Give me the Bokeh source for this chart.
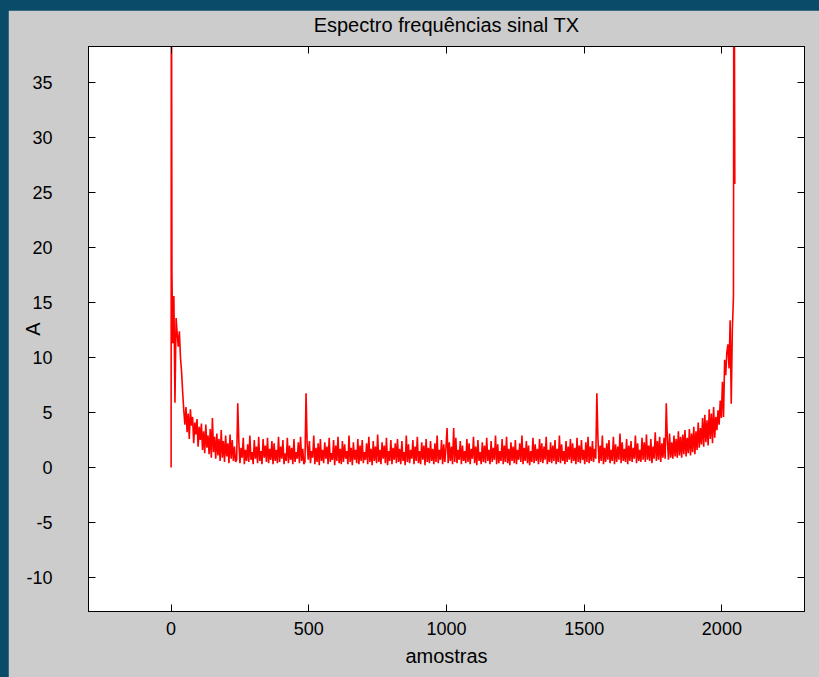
from bokeh.plotting import figure
from bokeh.models import Range1d, LinearAxis, FixedTicker, PrintfTickFormatter
from bokeh.layouts import column
from bokeh.embed import file_html
from bokeh.resources import INLINE

# --- data ---
titulo = "Espectro frequências sinal TX"
rotulo_x = "amostras"
rotulo_y = "A"
ticks_x = [0, 500, 1000, 1500, 2000]
ticks_y = [-10, -5, 0, 5, 10, 15, 20, 25, 30, 35]

head_amostras = [0, 1, 2, 3]
head_valores = [0, 60, 35.4, 17.6]

corpo_inicio = 6
corpo_passo = 4
corpo_valores = [
    11.3, 15.6, 5.9, 13.6, 12.2, 11.0, 12.4, 10.0, 8.7, 6.85, 5.2, 3.9,
    5.5, 3.2, 4.9, 2.6, 5.3, 3.8, 4.6, 2.2, 4.1, 3.0, 4.4, 1.9, 3.7, 2.5, 4.0, 1.6,
    3.3, 1.3, 3.9, 1.8, 2.9, 1.2, 3.5, 0.9, 4.5, 1.4, 2.8, 0.8, 3.1, 1.1, 2.6, 0.6,
    3.4, 0.9, 2.4, 0.5, 2.9, 1.0, 2.2, 0.4, 3.0, 0.8, 2.5, 0.6, 1.9, 0.5, 0.7, 5.85,
    2.3, 0.4, 1.8, 0.9, 2.7, 0.3, 1.6, 0.6, 2.1, 0.5, 2.9, 0.7, 1.4, 0.3, 2.5, 0.8,
    1.9, 0.4, 2.8, 0.6, 1.5, 0.3, 2.6, 0.9, 2.0, 0.5, 2.7, 0.4, 1.7, 0.7, 2.4, 0.3,
    2.2, 0.6, 1.6, 0.4, 2.8, 0.5, 1.9, 0.8, 2.5, 0.3, 1.3, 0.6, 2.7, 0.4, 2.0, 0.7,
    1.8, 0.3, 2.6, 0.5, 1.4, 0.8, 2.3, 0.4, 2.8, 0.6, 1.7, 0.3, 0.5, 6.75, 2.1, 0.7,
    2.4, 0.4, 1.5, 0.9, 2.9, 0.3, 1.8, 0.5, 2.2, 0.2, 2.6, 0.6, 1.6, 0.4, 2.3, 0.8,
    1.9, 0.3, 2.7, 0.5, 1.3, 0.7, 2.5, 0.2, 2.0, 0.6, 2.8, 0.4, 1.7, 0.3, 2.4, 0.5,
    2.1, 0.8, 1.5, 0.3, 2.9, 0.5, 1.8, 0.2, 2.3, 0.7, 1.6, 0.4, 2.6, 0.3, 2.0, 0.6,
    2.5, 0.4, 1.4, 0.7, 2.2, 0.3, 2.8, 0.5, 1.7, 0.2, 2.4, 0.6, 1.9, 0.4, 3.0, 0.5,
    1.6, 0.3, 2.3, 0.8, 2.0, 0.4, 2.7, 0.2, 1.5, 0.6, 2.5, 0.3, 1.8, 0.7, 2.2, 0.4,
    2.6, 0.5, 1.7, 0.3, 2.4, 0.6, 1.4, 0.2, 2.9, 0.5, 2.1, 0.4, 1.6, 0.8, 2.5, 0.3,
    1.9, 0.6, 2.8, 0.4, 1.5, 0.3, 2.3, 0.7, 2.0, 0.2, 2.6, 0.5, 1.8, 0.4, 2.4, 0.6,
    1.7, 0.3, 2.2, 0.5, 2.9, 0.4, 1.6, 0.7, 2.5, 0.3, 2.1, 0.5, 1.8, 3.6, 0.4, 2.3,
    0.6, 1.9, 0.3, 3.6, 0.5, 2.7, 0.4, 1.6, 0.7, 2.4, 0.3, 2.0, 0.6, 1.5, 0.4, 2.6,
    0.5, 2.2, 0.3, 1.7, 0.8, 2.8, 0.4, 1.9, 0.2, 2.5, 0.6, 1.4, 0.3, 2.3, 0.5, 2.0,
    0.4, 2.7, 0.6, 1.6, 0.3, 2.4, 0.5, 1.8, 0.7, 2.9, 0.3, 2.1, 0.4, 1.5, 0.6, 2.6,
    0.3, 2.0, 0.5, 2.8, 0.4, 1.7, 0.2, 2.3, 0.6, 1.9, 0.4, 2.5, 0.3, 1.6, 0.7, 2.2,
    0.5, 2.9, 0.3, 1.8, 0.6, 2.4, 0.4, 2.0, 0.2, 1.5, 0.5, 2.7, 0.4, 2.1, 0.6, 1.7,
    0.3, 2.6, 0.5, 2.2, 0.4, 1.9, 0.7, 2.8, 0.3, 1.6, 0.5, 2.3, 0.4, 2.0, 0.6, 2.5,
    0.3, 1.7, 0.5, 2.9, 0.4, 2.1, 0.6, 1.5, 0.3, 2.4, 0.5, 1.9, 0.7, 2.6, 0.4, 2.2,
    0.6, 1.8, 0.3, 2.7, 0.5, 2.0, 0.4, 2.5, 0.7, 1.6, 0.3, 2.3, 0.5, 2.8, 0.4, 1.9,
    0.6, 2.4, 0.5, 1.7, 0.8, 6.75, 2.6, 0.4, 2.0, 0.6, 2.9, 0.3, 1.8, 0.5, 2.2, 0.7,
    2.5, 0.4, 1.6, 0.6, 2.8, 0.3, 2.1, 0.5, 1.9, 0.7, 3.1, 0.4, 2.3, 0.6, 1.7, 0.5,
    2.6, 0.3, 2.0, 0.6, 2.4, 0.5, 1.8, 0.8, 2.9, 0.4, 2.2, 0.6, 1.6, 0.5, 2.7, 0.7,
    2.3, 0.5, 3.0, 0.7, 2.0, 0.6, 2.6, 0.4, 1.9, 0.8, 3.2, 0.6, 2.4, 0.7, 2.8, 0.5,
    2.2, 0.9, 2.7, 0.8, 5.85, 2.5, 0.7, 3.1, 0.9, 2.3, 0.8, 2.9, 1.0, 2.6, 0.9, 3.3,
    1.1, 2.8, 0.9, 3.0, 1.2, 3.4, 1.0, 2.7, 1.3, 3.5, 1.1, 3.1, 1.4, 3.7, 1.2, 3.3,
    1.6, 4.1, 1.8, 3.6, 2.1, 4.5, 1.9, 4.8, 2.3, 4.3, 2.0, 5.3, 2.6, 4.9, 2.2, 5.5,
    2.7, 4.6, 3.4, 5.2, 3.9, 6.1, 4.5, 7.8, 4.6, 9.8, 8.4, 10.5, 11.2, 9.0, 13.4, 5.8, 12.6,
]
tail_amostras = [2042, 2044, 2046, 2047]
tail_valores = [15.5, 60, 35.2, 25.8]

corpo_amostras = list(range(corpo_inicio, corpo_inicio + corpo_passo * len(corpo_valores), corpo_passo))
amostras = head_amostras + corpo_amostras + tail_amostras
amplitude = head_valores + corpo_valores + tail_valores

# --- figure ---
FONT = "Liberation Sans"
p = figure(width=811, height=667, output_backend="svg", toolbar_location=None,
           x_range=Range1d(-300, 2300), y_range=Range1d(-13.1, 38.3),
           min_border_left=80, min_border_right=15, min_border_top=36, min_border_bottom=66,
           margin=(10, 0, 0, 8))
p.title.visible = False
p.border_fill_color = "#cccccc"
p.background_fill_color = "white"
p.outline_line_color = "black"
p.grid.visible = False

p.line(amostras, amplitude, line_color="#ff0000", line_width=1.6)

for ax, ticks in ((p.xaxis[0], ticks_x), (p.yaxis[0], ticks_y)):
    ax.ticker = FixedTicker(ticks=ticks)
    ax.formatter = PrintfTickFormatter(format="%d")
    ax.major_tick_in = 7
    ax.major_tick_out = 0
    ax.minor_tick_in = 0
    ax.minor_tick_out = 0
    ax.axis_line_color = "black"
    ax.major_tick_line_color = "black"
    ax.major_label_text_font = FONT
    ax.major_label_text_font_size = "18px"
    ax.major_label_text_color = "black"
    ax.axis_label_text_font = FONT
    ax.axis_label_text_font_size = "20px"
    ax.axis_label_text_font_style = "normal"
    ax.axis_label_text_color = "black"

p.xaxis[0].axis_label = rotulo_x
p.yaxis[0].axis_label = rotulo_y
p.xaxis[0].major_label_standoff = 10
p.xaxis[0].axis_label_standoff = 7
p.yaxis[0].major_label_standoff = 36
p.yaxis[0].axis_label_standoff = -21

for loc, ticks in (("above", ticks_x), ("right", ticks_y)):
    ax = LinearAxis(ticker=FixedTicker(ticks=ticks))
    ax.major_tick_in = 7
    ax.major_tick_out = 0
    ax.minor_tick_in = 0
    ax.minor_tick_out = 0
    ax.major_label_text_font_size = "0px"
    ax.major_label_text_color = None
    ax.major_label_standoff = 0
    ax.axis_line_color = "black"
    ax.major_tick_line_color = "black"
    if loc == "above":
        ax.axis_label = titulo
        ax.axis_label_text_font = FONT
        ax.axis_label_text_font_size = "20px"
        ax.axis_label_text_font_style = "normal"
        ax.axis_label_text_color = "black"
        ax.axis_label_standoff = 11
    p.add_layout(ax, loc)

layout = column(p, width=819, height=677, styles={"background-color": "#0b4b6a"})

open("out.html", "w").write(file_html(layout, INLINE))
